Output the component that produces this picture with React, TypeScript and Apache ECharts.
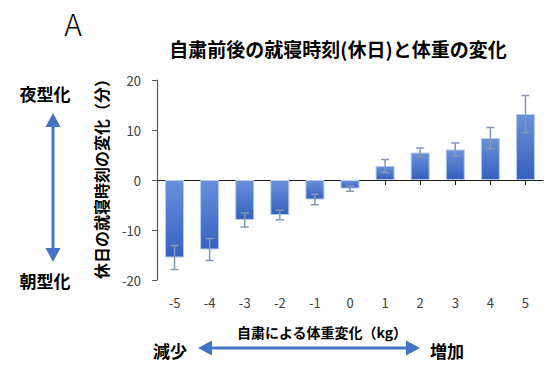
import React, { useEffect, useRef } from "react";
import * as echarts from "echarts";

const categories = ["-5", "-4", "-3", "-2", "-1", "0", "1", "2", "3", "4", "5"];
const values = [-15.5, -13.9, -8.0, -7.0, -3.9, -1.7, 2.8, 5.5, 6.1, 8.4, 13.2];
const errors = [2.4, 2.2, 1.4, 0.95, 1.05, 0.55, 1.3, 0.9, 1.3, 2.1, 3.7];
const yTicks = { min: -20, max: 20, interval: 10 };

const FONT = '"Noto Sans CJK JP", "Noto Sans", sans-serif';
const BLUE = "#4472C4";

export default function App() {
  const ref = useRef<HTMLDivElement>(null);
  useEffect(() => {
    if (!ref.current) return;
    const chart = echarts.init(ref.current, undefined, { renderer: "svg" });
    const errData = values.map((v, i) => [i, v, errors[i]]);
    chart.setOption({
      animation: false,
      backgroundColor: "#ffffff",
      textStyle: { fontFamily: FONT },
      grid: { left: 157, right: 16, top: 80, bottom: 93 },
      xAxis: [
        {
          type: "category",
          data: categories,
          position: "bottom",
          axisLine: { onZero: true, lineStyle: { color: "#1a1a1a", width: 1.2 } },
          axisTick: { show: true, alignWithLabel: true, length: 5, lineStyle: { color: "#1a1a1a" } },
          axisLabel: { show: false },
          splitLine: { show: false },
        },
        {
          type: "category",
          data: categories,
          position: "bottom",
          axisLine: { show: false },
          axisTick: { show: false },
          axisLabel: { show: true, margin: 16, fontSize: 13, color: "#404040", fontFamily: FONT },
          splitLine: { show: false },
        },
      ],
      yAxis: {
        type: "value",
        min: yTicks.min,
        max: yTicks.max,
        interval: yTicks.interval,
        axisLine: { show: true, lineStyle: { color: "#595959", width: 1.2 } },
        axisTick: { show: true, length: 5, lineStyle: { color: "#595959" } },
        axisLabel: { margin: 16, fontSize: 13, color: "#404040", fontFamily: FONT },
        splitLine: { show: false },
      },
      series: [
        {
          type: "bar",
          xAxisIndex: 0,
          data: values,
          barWidth: 19,
          itemStyle: {
            color: new echarts.graphic.LinearGradient(0, 0, 0, 1, [
              { offset: 0, color: "#6990DA" },
              { offset: 1, color: "#3461C0" },
            ]),
            borderColor: "#B8CAEA",
            borderWidth: 1,
          },
        },
        {
          type: "custom",
          xAxisIndex: 0,
          data: errData,
          z: 5,
          renderItem: (params: any, api: any) => {
            const idx = api.value(0);
            const v = api.value(1);
            const e = api.value(2);
            const top = api.coord([idx, v + e]);
            const bot = api.coord([idx, v - e]);
            const hw = 4;
            const style = { stroke: "#8497B0", lineWidth: 1.5 };
            return {
              type: "group",
              children: [
                { type: "line", shape: { x1: top[0], y1: top[1], x2: bot[0], y2: bot[1] }, style },
                { type: "line", shape: { x1: top[0] - hw, y1: top[1], x2: top[0] + hw, y2: top[1] }, style },
                { type: "line", shape: { x1: bot[0] - hw, y1: bot[1], x2: bot[0] + hw, y2: bot[1] }, style },
              ],
            };
          },
        },
      ],
      graphic: [
        {
          type: "text",
          x: 73,
          y: 23,
          style: { text: "A", fontSize: 30, fontFamily: FONT, fill: "#000", align: "center", verticalAlign: "middle", fontWeight: 300 },
        },
        {
          type: "text",
          x: 338,
          y: 48,
          style: { text: "自粛前後の就寝時刻(休日)と体重の変化", fontSize: 19, fontWeight: "bold", fontFamily: FONT, fill: "#000", align: "center", verticalAlign: "middle" },
        },
        {
          type: "text",
          x: 101,
          y: 175,
          rotation: Math.PI / 2,
          style: { text: "休日の就寝時刻の変化（分）", fontSize: 16, fontWeight: "bold", fontFamily: FONT, fill: "#000", align: "center", verticalAlign: "middle" },
        },
        {
          type: "text",
          x: 45,
          y: 93,
          style: { text: "夜型化", fontSize: 17, fontWeight: "bold", fontFamily: FONT, fill: "#000", align: "center", verticalAlign: "middle" },
        },
        {
          type: "text",
          x: 45,
          y: 280,
          style: { text: "朝型化", fontSize: 17, fontWeight: "bold", fontFamily: FONT, fill: "#000", align: "center", verticalAlign: "middle" },
        },
        { type: "line", shape: { x1: 53, y1: 124, x2: 53, y2: 251 }, style: { stroke: BLUE, lineWidth: 3 } },
        { type: "polygon", shape: { points: [[53, 113], [45.5, 127], [60.5, 127]] }, style: { fill: BLUE } },
        { type: "polygon", shape: { points: [[53, 262], [45.5, 248], [60.5, 248]] }, style: { fill: BLUE } },
        {
          type: "text",
          x: 322,
          y: 332,
          style: { text: "自粛による体重変化（kg）", fontSize: 14, fontWeight: "bold", fontFamily: FONT, fill: "#000", align: "center", verticalAlign: "middle" },
        },
        {
          type: "text",
          x: 170,
          y: 350,
          style: { text: "減少", fontSize: 17, fontWeight: "bold", fontFamily: FONT, fill: "#000", align: "center", verticalAlign: "middle" },
        },
        {
          type: "text",
          x: 447,
          y: 350,
          style: { text: "増加", fontSize: 17, fontWeight: "bold", fontFamily: FONT, fill: "#000", align: "center", verticalAlign: "middle" },
        },
        { type: "line", shape: { x1: 209, y1: 348, x2: 409, y2: 348 }, style: { stroke: BLUE, lineWidth: 3 } },
        { type: "polygon", shape: { points: [[198, 348], [212, 340.5], [212, 355.5]] }, style: { fill: BLUE } },
        { type: "polygon", shape: { points: [[420, 348], [406, 340.5], [406, 355.5]] }, style: { fill: BLUE } },
      ],
    });
    return () => chart.dispose();
  }, []);
  return <div ref={ref} style={{ width: 559, height: 373, margin: -8 }} />;
}
